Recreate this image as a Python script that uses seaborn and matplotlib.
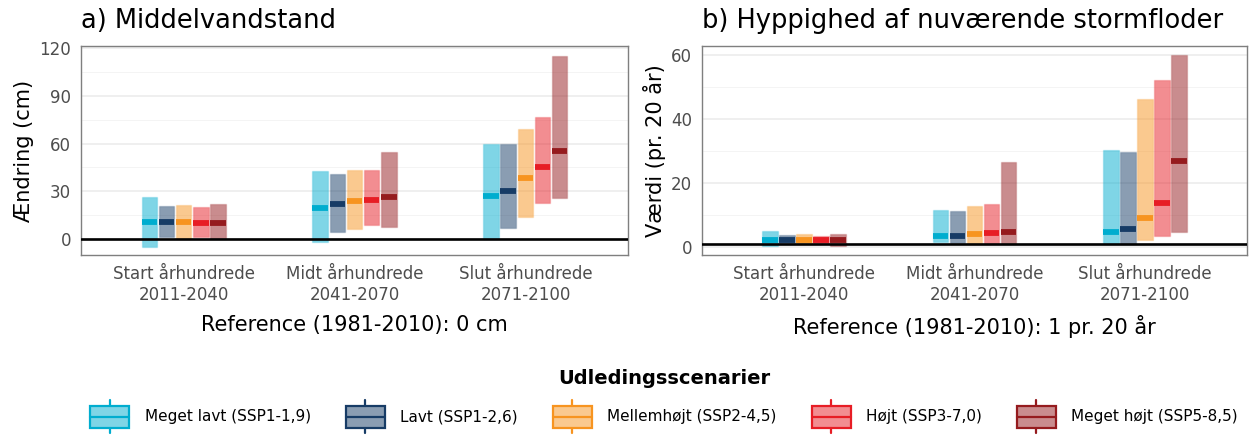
import matplotlib
matplotlib.use("Agg")
import matplotlib.pyplot as plt
from matplotlib.legend_handler import HandlerBase
from matplotlib.lines import Line2D
from matplotlib.patches import Patch, Rectangle
from matplotlib.colors import to_rgb
from matplotlib.ticker import MultipleLocator
import pandas as pd
import seaborn as sns

# ── data ──────────────────────────────────────────────────────────────────
periods = ["Start århundrede\n2011-2040",
           "Midt århundrede\n2041-2070",
           "Slut århundrede\n2071-2100"]
scenarios = ["Meget lavt (SSP1-1,9)", "Lavt (SSP1-2,6)", "Mellemhøjt (SSP2-4,5)",
             "Højt (SSP3-7,0)", "Meget højt (SSP5-8,5)"]
colors = ["#00ADCF", "#173C66", "#F79420", "#E71D25", "#951B1E"]

# middelvandstand, cm (rows = periods, cols = scenarios)
msl_low = [[-4.6, 1.7, 0.0, 1.7, 0.0],
           [-1.9, 4.8, 6.7, 8.7, 7.5],
           [0.0, 6.9, 14.2, 22.7, 26.0]]
msl_mid = [[10.6, 10.6, 10.8, 10.4, 10.2],
           [19.4, 21.9, 23.8, 24.8, 26.7],
           [27.1, 30.2, 38.1, 45.2, 55.4]]
msl_high = [[26.2, 20.6, 21.5, 20.0, 21.9],
            [42.7, 41.2, 43.7, 43.7, 54.6],
            [60.0, 59.8, 69.4, 76.7, 115.0]]

# stormfloder, antal pr. 20 år
surge_low = [[0.1, 0.8, 0.8, 0.8, 0.3],
             [1.6, 1.1, 1.0, 1.0, 1.0],
             [1.0, 1.0, 2.0, 3.4, 4.5]]
surge_mid = [[2.2, 2.0, 2.0, 2.0, 2.0],
             [3.2, 3.4, 3.9, 4.2, 4.7],
             [4.6, 5.4, 8.9, 13.6, 27.0]]
surge_high = [[4.9, 3.65, 3.9, 3.5, 4.1],
              [11.6, 11.1, 12.9, 13.5, 26.6],
              [30.4, 29.6, 46.4, 52.1, 60.0]]


def to_frame(lo, mid, hi):
    rows = []
    for i, p in enumerate(periods):
        for j, s in enumerate(scenarios):
            rows.append(dict(period=p, scenario=s, lo=lo[i][j], mid=mid[i][j],
                             hi=hi[i][j], span=hi[i][j] - lo[i][j]))
    return pd.DataFrame(rows)


class BoxKey(HandlerBase):
    """ggplot-style boxplot legend key."""
    def create_artists(self, legend, orig, xd, yd, width, height, fontsize, trans):
        c = to_rgb(orig.get_edgecolor())
        x0, y0 = -xd, -yd
        b0, b1 = y0 + height * 0.16, y0 + height * 0.84
        xm = x0 + width / 2
        return [
            Line2D([xm, xm], [y0, b0], color=c, lw=1.6, transform=trans),
            Line2D([xm, xm], [b1, y0 + height], color=c, lw=1.6, transform=trans),
            Rectangle((x0, b0), width, b1 - b0, facecolor=(*c, 0.5),
                      edgecolor=c, lw=1.6, transform=trans),
            Line2D([x0, x0 + width], [(b0 + b1) / 2] * 2, color=c, lw=1.6,
                   transform=trans),
        ]


def draw_panel(ax, df, ref, title, ylabel, xlabel, ylim, major, minor):
    sns.barplot(data=df, x="period", y="span", hue="scenario",
                order=periods, hue_order=scenarios, palette=colors,
                width=0.5, gap=0.08, dodge=True, errorbar=None,
                legend=False, ax=ax)
    for j, cont in enumerate(ax.containers):
        c = to_rgb(colors[j])
        sub = df[df.scenario == scenarios[j]].reset_index(drop=True)
        for bar in cont:
            i = int(round(bar.get_x() + bar.get_width() / 2))
            bar.set_y(sub.lo[i])
            bar.set_facecolor((*c, 0.5))
            bar.set_edgecolor((*c, 0.2))
            bar.set_linewidth(1.0)
            ax.hlines(sub.mid[i], bar.get_x(), bar.get_x() + bar.get_width(),
                      color=c, lw=4.2, zorder=3)
    ax.axhline(ref, color="black", lw=1.9, zorder=4)

    ax.set_xlim(-0.6, 2.6)
    ax.set_ylim(*ylim)
    ax.yaxis.set_major_locator(MultipleLocator(major))
    ax.yaxis.set_minor_locator(MultipleLocator(minor))
    ax.grid(axis="y", which="major", color="#ebebeb", lw=1.1)
    ax.grid(axis="y", which="minor", color="#f4f4f4", lw=0.7)
    ax.grid(axis="x", visible=False)
    ax.set_axisbelow(True)
    for sp in ax.spines.values():
        sp.set_visible(True)
        sp.set_color("#7f7f7f")
        sp.set_linewidth(1.0)
    ax.tick_params(axis="both", which="major", length=4, width=1,
                   color="#333333", labelcolor="#4d4d4d", labelsize=12, pad=3)
    ax.tick_params(axis="y", which="minor", length=0)
    ax.set_title(title, loc="left", fontsize=18.5, pad=13)
    ax.set_xlabel(xlabel, fontsize=15, labelpad=8)
    ax.set_ylabel(ylabel, fontsize=15, labelpad=4)


sns.set_theme(style="whitegrid")
plt.rcParams["font.family"] = ["DejaVu Sans"]
plt.rcParams["text.color"] = "black"
plt.rcParams["axes.labelcolor"] = "black"
plt.rcParams["axes.titlecolor"] = "black"

fig = plt.figure(figsize=(12.49, 4.37), dpi=100)
W, H = 1249, 437
ax1 = fig.add_axes([81 / W, 182 / H, 547 / W, 209 / H])
ax2 = fig.add_axes([702 / W, 182 / H, 545 / W, 209 / H])

draw_panel(ax1, to_frame(msl_low, msl_mid, msl_high), 0,
           "a) Middelvandstand", "Ændring (cm)",
           "Reference (1981-2010): 0 cm", (-9.9, 121.2), 30, 15)
draw_panel(ax2, to_frame(surge_low, surge_mid, surge_high), 1,
           "b) Hyppighed af nuværende stormfloder", "Værdi (pr. 20 år)",
           "Reference (1981-2010): 1 pr. 20 år", (-2.6, 62.9), 20, 10)

handles = [Patch(edgecolor=c, facecolor=c) for c in colors]
leg = fig.legend(handles, scenarios, handler_map={Patch: BoxKey()},
                 loc="center", bbox_to_anchor=(664 / W, (H - 401) / H),
                 ncol=5, frameon=False, fontsize=11,
                 title="Udledingsscenarier",
                 title_fontproperties={"weight": "bold", "size": 14},
                 handlelength=2.55, handleheight=2.9, handletextpad=1.0,
                 columnspacing=2.3)
leg._legend_box.sep = 9

fig.savefig("out.png", dpi=100)
